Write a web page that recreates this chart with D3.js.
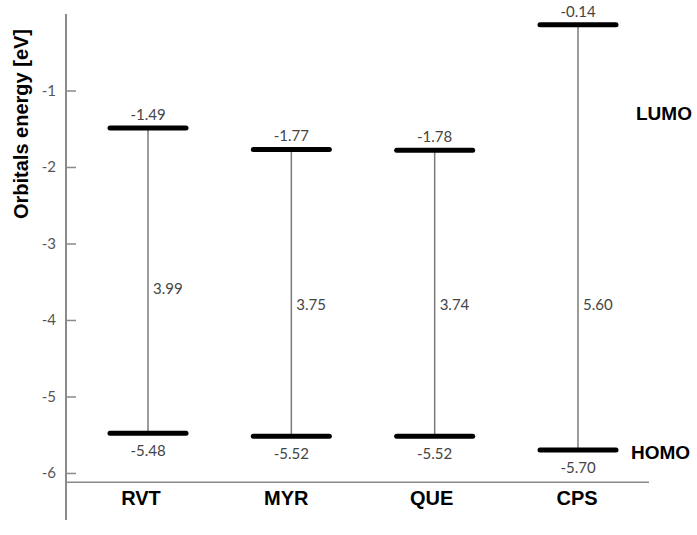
<!DOCTYPE html>
<html lang="en">
  <head>
    <meta charset="utf-8">
    <title>Orbitals energy</title>
    <script type="text/javascript" src="https://cdn.jsdelivr.net/npm/d3@7"></script>
    <style>
      body { margin: 0; background: #fff; }
    </style>
  </head>
  <body>
    <script type="text/javascript">
    // compounds and their frontier orbital energies (eV)
    var compounds = ["RVT", "MYR", "QUE", "CPS"];
    var lumo = [-1.49, -1.77, -1.78, -0.14];
    var homo = [-5.48, -5.52, -5.52, -5.70];
    var gap = [3.99, 3.75, 3.74, 5.60];
    var yTicks = [-1, -2, -3, -4, -5, -6];

    var w = 697;
    var h = 535;

    var svg = d3.select("body")
                .append("svg")
                .attr("width", w)
                .attr("height", h);

    // scales
    var yScale = d3.scaleLinear()
                   .domain([-6.615, 0])
                   .range([520, 14]);
    var xScale = d3.scalePoint()
                   .domain(compounds)
                   .range([148, 578]);

    var axisX = 66;
    var baseY = yScale(-6.12);

    // y axis (ticks point inward)
    var yAxis = d3.axisRight(yScale)
                  .tickValues(yTicks)
                  .tickSize(10)
                  .tickFormat(d3.format("d"));
    var gy = svg.append("g")
                .attr("transform", "translate(" + axisX + ",0)")
                .call(yAxis);
    gy.select(".domain")
      .attr("d", "M0," + yScale.range()[1] + "V" + yScale.range()[0])
      .attr("stroke", "#8a8a8a")
      .attr("stroke-width", 2);
    gy.selectAll(".tick line")
      .attr("stroke", "#8a8a8a")
      .attr("stroke-width", 1.5);
    gy.selectAll(".tick text")
      .attr("x", -10)
      .attr("text-anchor", "end")
      .attr("fill", "#555")
      .attr("font-family", "Lato, 'Open Sans', sans-serif")
      .attr("font-size", 15)
      .text(function(d) { return "-" + Math.abs(d); });

    // horizontal base line
    svg.append("line")
       .attr("x1", axisX)
       .attr("x2", 649)
       .attr("y1", baseY)
       .attr("y2", baseY)
       .attr("stroke", "#8a8a8a")
       .attr("stroke-width", 1.5);

    var boldFont = "'Liberation Sans', Arial, sans-serif";

    // y axis title
    svg.append("text")
       .attr("transform", "translate(28,124) rotate(-90)")
       .attr("text-anchor", "middle")
       .attr("font-family", boldFont)
       .attr("font-weight", "bold")
       .attr("font-size", 20)
       .attr("fill", "#000")
       .text("Orbitals energy [eV]");

    // category labels
    var catX = d3.scalePoint()
                 .domain(compounds)
                 .range([141, 577]);
    svg.selectAll("text.cat")
       .data(compounds)
       .enter()
       .append("text")
       .attr("class", "cat")
       .attr("x", function(d) { return catX(d); })
       .attr("y", 505)
       .attr("text-anchor", "middle")
       .attr("font-family", boldFont)
       .attr("font-weight", "bold")
       .attr("font-size", 20)
       .text(function(d) { return d; });

    var rows = compounds.map(function(c, i) {
      return { name: c, lumo: lumo[i], homo: homo[i], gap: gap[i] };
    });
    var half = 38;

    // vertical connectors
    svg.selectAll("line.conn")
       .data(rows)
       .enter()
       .append("line")
       .attr("class", "conn")
       .attr("x1", function(d) { return xScale(d.name); })
       .attr("x2", function(d) { return xScale(d.name); })
       .attr("y1", function(d) { return yScale(d.lumo); })
       .attr("y2", function(d) { return yScale(d.homo); })
       .attr("stroke", "#7a7a7a")
       .attr("stroke-width", 1.5);

    // energy levels
    ["lumo", "homo"].forEach(function(key) {
      svg.selectAll("line." + key)
         .data(rows)
         .enter()
         .append("line")
         .attr("class", key)
         .attr("x1", function(d) { return xScale(d.name) - half; })
         .attr("x2", function(d) { return xScale(d.name) + half; })
         .attr("y1", function(d) { return yScale(d[key]); })
         .attr("y2", function(d) { return yScale(d[key]); })
         .attr("stroke", "#000")
         .attr("stroke-width", 5)
         .attr("stroke-linecap", "round");
    });

    var numFont = "Lato, 'Open Sans', sans-serif";

    // level values
    svg.selectAll("text.lv")
       .data(rows)
       .enter()
       .append("text")
       .attr("class", "lv")
       .attr("x", function(d) { return xScale(d.name); })
       .attr("y", function(d) { return yScale(d.lumo) - 8; })
       .attr("text-anchor", "middle")
       .attr("font-family", numFont)
       .attr("font-size", 15)
       .attr("fill", "#444")
       .text(function(d) { return d.lumo.toFixed(2); });

    svg.selectAll("text.hv")
       .data(rows)
       .enter()
       .append("text")
       .attr("class", "hv")
       .attr("x", function(d) { return xScale(d.name); })
       .attr("y", function(d) { return yScale(d.homo) + 23; })
       .attr("text-anchor", "middle")
       .attr("font-family", numFont)
       .attr("font-size", 15)
       .attr("fill", "#444")
       .text(function(d) { return d.homo.toFixed(2); });

    // gap values
    svg.selectAll("text.gap")
       .data(rows)
       .enter()
       .append("text")
       .attr("class", "gap")
       .attr("x", function(d) { return xScale(d.name) + 5; })
       .attr("y", function(d, i) { return yScale(i == 0 ? -3.6 : -3.8) + 5; })
       .attr("font-family", numFont)
       .attr("font-size", 15)
       .attr("fill", "#444")
       .text(function(d) { return d.gap.toFixed(2); });

    // orbital labels
    svg.append("text")
       .attr("x", 636)
       .attr("y", 120)
       .attr("font-family", boldFont)
       .attr("font-weight", "bold")
       .attr("font-size", 19)
       .text("LUMO");
    svg.append("text")
       .attr("x", 631)
       .attr("y", 459)
       .attr("font-family", boldFont)
       .attr("font-weight", "bold")
       .attr("font-size", 19)
       .text("HOMO");
    </script>
  </body>
</html>
